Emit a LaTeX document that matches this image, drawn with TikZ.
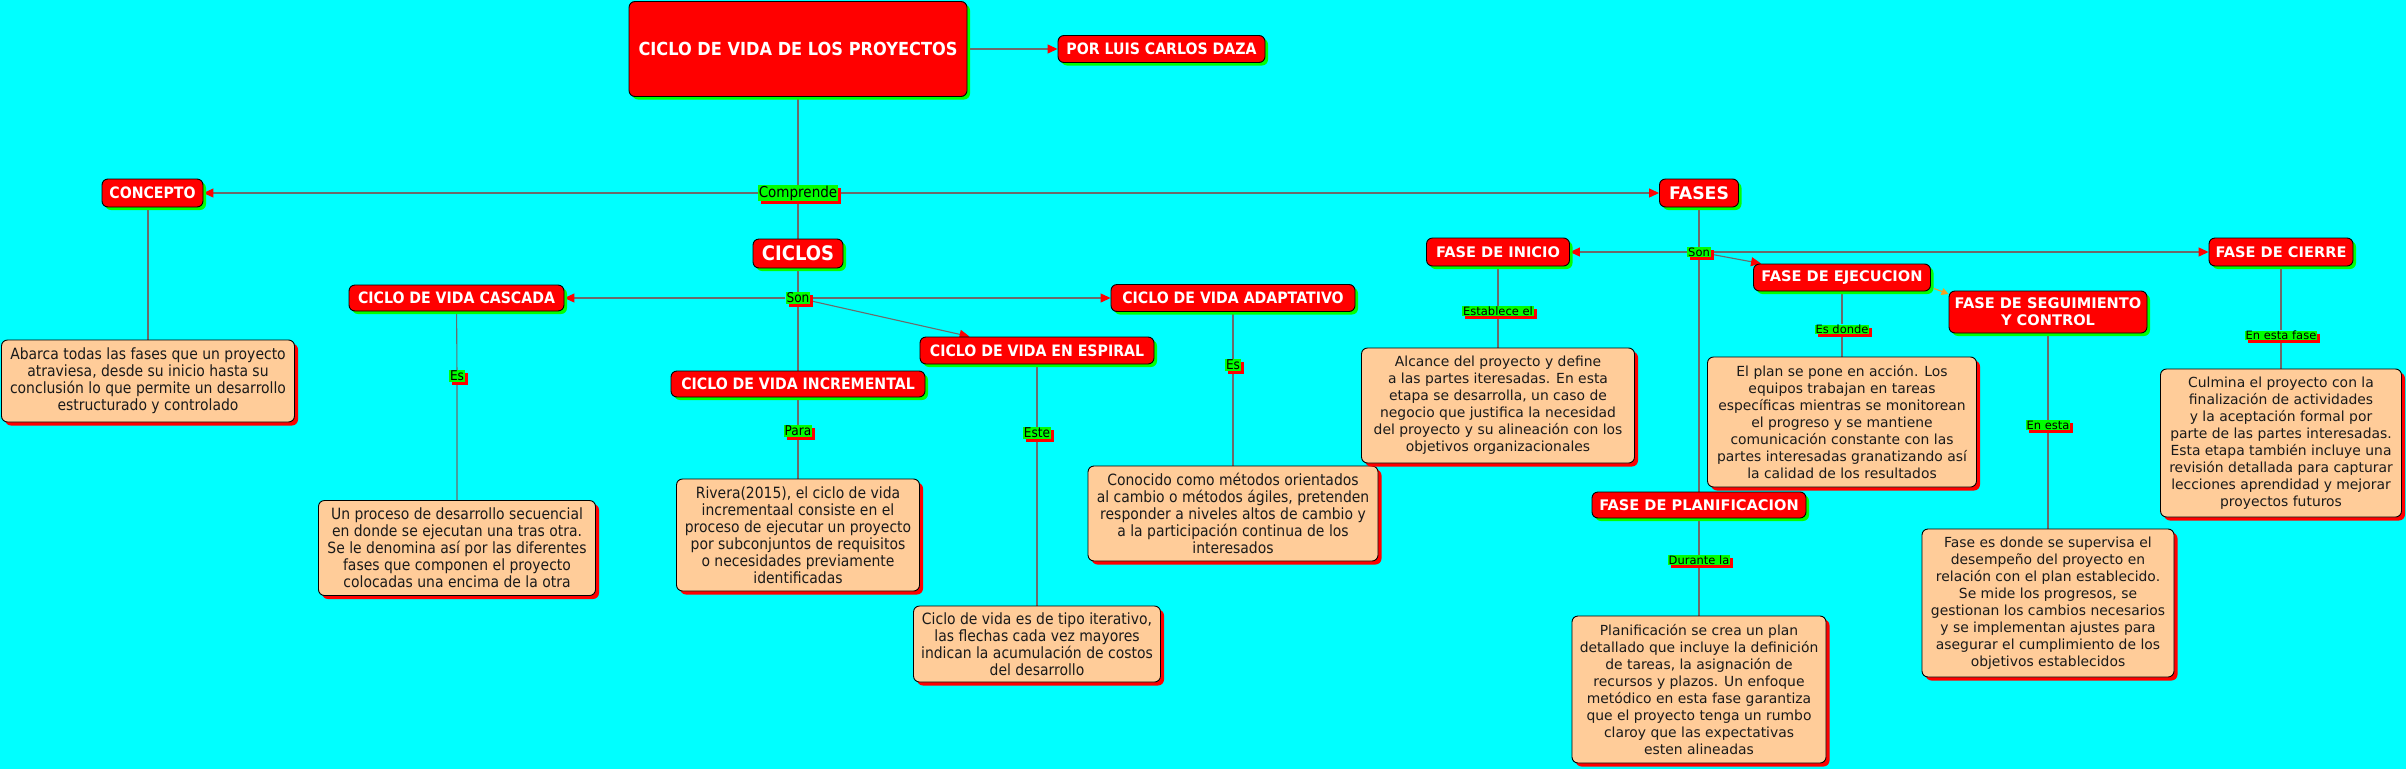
\documentclass[tikz,border=0pt]{standalone}
\usepackage{fontspec}
\setmainfont{DejaVu Sans}
\newfontfamily\vfont{DejaVu Sans}
\newfontfamily\tfont[FakeStretch=0.9]{DejaVu Sans}
\usetikzlibrary{arrows.meta,shadows,backgrounds}
\definecolor{bgcyan}{HTML}{00FFFF}
\definecolor{nred}{HTML}{FF0000}
\definecolor{ngreen}{HTML}{00FF00}
\definecolor{peach}{HTML}{FFCC99}
\definecolor{linegray}{HTML}{6B6B6B}
\definecolor{oarrow}{HTML}{F5A020}
\definecolor{tblack}{HTML}{1A1A1A}
\newcommand\mylt{\tfont\fontsize{15.5}{17}\selectfont}
\newcommand\myrt{\vfont\fontsize{13.9}{17}\selectfont}
\newcommand\myln{\tfont\bfseries\fontsize{15.7}{17}\selectfont}
\newcommand\myrn{\vfont\bfseries\fontsize{14.6}{17}\selectfont}
\newcommand\mylab{\tfont\fontsize{13.5}{15}\selectfont}
\newcommand\myrlab{\vfont\fontsize{11.5}{13}\selectfont}
\tikzset{
  conn/.style={draw=linegray, line width=1.1pt},
  arr/.style={conn, -{Triangle[length=10pt,width=9pt,color=nred,fill=nred]}},
  oarr/.style={draw=oarrow, line width=1.1pt, -{Triangle[length=7pt,width=7pt,color=oarrow,fill=oarrow]}},
  cnode/.style={draw=black, line width=0.9pt, fill=nred, text=white, rounded corners=6pt,
    inner sep=0pt, align=center,
    drop shadow={fill=ngreen, opacity=1, shadow xshift=3pt, shadow yshift=-3pt}},
  ibox/.style={draw=black, line width=0.9pt, fill=peach, text=tblack, rounded corners=6pt,
    inner sep=0pt, align=center,
    drop shadow={fill=nred, opacity=1, shadow xshift=3.5pt, shadow yshift=-3.5pt}},
  lab/.style={fill=ngreen, text=black, inner xsep=1pt, inner ysep=0.5pt,
    drop shadow={fill=nred, opacity=1, shadow xshift=3pt, shadow yshift=-3pt}},
}
\begin{document}
\begin{tikzpicture}[x=1pt,y=-1pt]
\useasboundingbox (0,0) rectangle (2406,769);

% ---- top
\node[cnode, font=\tfont\bfseries\fontsize{18}{20}\selectfont, minimum width=338pt, minimum height=95pt] (title) at (798,49) {CICLO DE VIDA DE LOS PROYECTOS};
\node[cnode, font=\myln, minimum width=207pt, minimum height=27pt] (author) at (1161.5,49) {POR LUIS CARLOS DAZA};
\node[lab, font=\tfont\fontsize{15}{16}\selectfont] (comp) at (798,193) {Comprende};
\node[cnode, font=\myln, minimum width=101pt, minimum height=28pt] (concepto) at (152.5,193) {CONCEPTO};
\node[cnode, font=\vfont\bfseries\fontsize{17.3}{19}\selectfont, minimum width=79pt, minimum height=28pt] (fases) at (1699,193) {FASES};

% ---- concepto
\node[ibox, font=\mylt, minimum width=293pt, minimum height=82pt] (tconcepto) at (148,381) {Abarca todas las fases que un proyecto\\ atraviesa, desde su inicio hasta su\\ conclusión lo que permite un desarrollo\\ estructurado y controlado};

% ---- ciclos
\node[cnode, font=\tfont\bfseries\fontsize{20}{22}\selectfont, minimum width=90pt, minimum height=29pt] (ciclos) at (798,253.5) {CICLOS};
\node[lab, font=\mylab] (sonL) at (798,298) {Son};
\node[cnode, font=\myln, minimum width=215pt, minimum height=26pt] (cascada) at (456.5,298) {CICLO DE VIDA CASCADA};
\node[cnode, font=\myln, minimum width=244pt, minimum height=27pt] (adapt) at (1233,298) {CICLO DE VIDA ADAPTATIVO};
\node[cnode, font=\myln, minimum width=234pt, minimum height=27pt] (espiral) at (1037,350.5) {CICLO DE VIDA EN ESPIRAL};
\node[cnode, font=\myln, minimum width=254pt, minimum height=26pt] (incr) at (798,384) {CICLO DE VIDA INCREMENTAL};

\node[lab, font=\mylab] (esC) at (457,376) {Es};
\node[lab, font=\mylab] (para) at (798,431) {Para};
\node[lab, font=\mylab] (este) at (1037,433) {Este};
\node[lab, font=\mylab] (esA) at (1233,365) {Es};

\node[ibox, font=\mylt, minimum width=277pt, minimum height=95pt] (tcascada) at (457,548) {Un proceso de desarrollo secuencial\\ en donde se ejecutan una tras otra.\\ Se le denomina así por las diferentes\\ fases que componen el proyecto\\ colocadas una encima de la otra};
\node[ibox, font=\mylt, minimum width=243pt, minimum height=112pt] (tincr) at (798,535) {Rivera(2015), el ciclo de vida\\ incrementaal consiste en el\\ proceso de ejecutar un proyecto\\ por subconjuntos de requisitos\\ o necesidades previamente\\ identificadas};
\node[ibox, font=\mylt, minimum width=247pt, minimum height=76pt] (tespiral) at (1037,644) {Ciclo de vida es de tipo iterativo,\\ las flechas cada vez mayores\\ indican la acumulación de costos\\ del desarrollo};
\node[ibox, font=\mylt, minimum width=290pt, minimum height=95pt] (tadapt) at (1233,513.5) {Conocido como métodos orientados\\ al cambio o métodos ágiles, pretenden\\ responder a niveles altos de cambio y\\ a la participación continua de los\\ interesados};

% ---- fases
\node[lab, font=\myrlab] (sonR) at (1699,252) {Son};
\node[cnode, font=\myrn, minimum width=143pt, minimum height=28pt] (inicio) at (1498,252) {FASE DE INICIO};
\node[cnode, font=\myrn, minimum width=144pt, minimum height=28pt] (cierre) at (2281,252) {FASE DE CIERRE};
\node[cnode, font=\myrn, minimum width=177pt, minimum height=27pt] (ejec) at (1842,277.5) {FASE DE EJECUCION};
\node[cnode, font=\myrn, minimum width=214pt, minimum height=26pt] (planif) at (1699,505) {FASE DE PLANIFICACION};
\node[cnode, font=\myrn, minimum width=198pt, minimum height=42pt] (seg) at (2048,312) {FASE DE SEGUIMIENTO\\ Y CONTROL};

\node[lab, font=\myrlab] (establece) at (1498,311) {Establece el};
\node[lab, font=\myrlab] (esdonde) at (1842,329.5) {Es donde};
\node[lab, font=\myrlab] (durante) at (1699,560) {Durante la};
\node[lab, font=\myrlab] (enesta) at (2048,425) {En esta};
\node[lab, font=\myrlab] (enestafase) at (2281,335.5) {En esta fase};

\node[ibox, font=\myrt, minimum width=273pt, minimum height=115pt] (tinicio) at (1498,405.5) {Alcance del proyecto y define\\ a las partes iteresadas. En esta\\ etapa se desarrolla, un caso de\\ negocio que justifica la necesidad\\ del proyecto y su alineación con los\\ objetivos organizacionales};
\node[ibox, font=\myrt, minimum width=269pt, minimum height=130pt] (tejec) at (1842,422) {El plan se pone en acción. Los\\ equipos trabajan en tareas\\ específicas mientras se monitorean\\ el progreso y se mantiene\\ comunicación constante con las\\ partes interesadas granatizando así\\ la calidad de los resultados};
\node[ibox, font=\myrt, minimum width=254pt, minimum height=147pt] (tplanif) at (1699,689.5) {Planificación se crea un plan\\ detallado que incluye la definición\\ de tareas, la asignación de\\ recursos y plazos. Un enfoque\\ metódico en esta fase garantiza\\ que el proyecto tenga un rumbo\\ claroy que las expectativas\\ esten alineadas};
\node[ibox, font=\myrt, minimum width=252pt, minimum height=148pt] (tseg) at (2048,603) {Fase es donde se supervisa el\\ desempeño del proyecto en\\ relación con el plan establecido.\\ Se mide los progresos, se\\ gestionan los cambios necesarios\\ y se implementan ajustes para\\ asegurar el cumplimiento de los\\ objetivos establecidos};
\node[ibox, font=\myrt, minimum width=241pt, minimum height=148pt] (tcierre) at (2281,443) {Culmina el proyecto con la\\ finalización de actividades\\ y la aceptación formal por\\ parte de las partes interesadas.\\ Esta etapa también incluye una\\ revisión detallada para capturar\\ lecciones aprendidad y mejorar\\ proyectos futuros};

\begin{pgfonlayer}{background}
\fill[bgcyan] (0,0) rectangle (2406,769);
\draw[arr] (title) -- (author);
\draw[conn] (title) -- (comp);
\draw[arr] (comp) -- (concepto);
\draw[arr] (comp) -- (fases);
\draw[conn] (comp) -- (ciclos);
\draw[conn] (concepto.south -| tconcepto.north) -- (tconcepto.north);
\draw[conn] (ciclos) -- (sonL);
\draw[arr] (sonL) -- (cascada);
\draw[arr] (sonL) -- (adapt);
\draw[arr] (sonL) -- ([xshift=50pt]espiral.north west);
\draw[conn] (sonL) -- (incr);
\draw[conn] (cascada) -- (esC) -- (tcascada);
\draw[conn] (incr) -- (para) -- (tincr);
\draw[conn] (espiral) -- (este) -- (tespiral);
\draw[conn] (adapt) -- (esA) -- (tadapt);
\draw[conn] (fases) -- (sonR);
\draw[arr] (sonR) -- (inicio);
\draw[arr] (sonR) -- (cierre);
\draw[arr] (sonR) -- ([xshift=8pt]ejec.north west);
\draw[conn] (sonR) -- (planif);
\draw[conn] (inicio) -- (establece) -- (tinicio);
\draw[conn] (ejec) -- (esdonde) -- (tejec);
\draw[conn] (planif) -- (durante) -- (tplanif);
\draw[conn] (seg) -- (enesta) -- (tseg);
\draw[conn] (cierre) -- (enestafase) -- (tcierre);
\draw[oarr] ([xshift=3pt,yshift=-11pt]ejec.east) -- ([yshift=18pt]seg.west);
\end{pgfonlayer}
\end{tikzpicture}
\end{document}
